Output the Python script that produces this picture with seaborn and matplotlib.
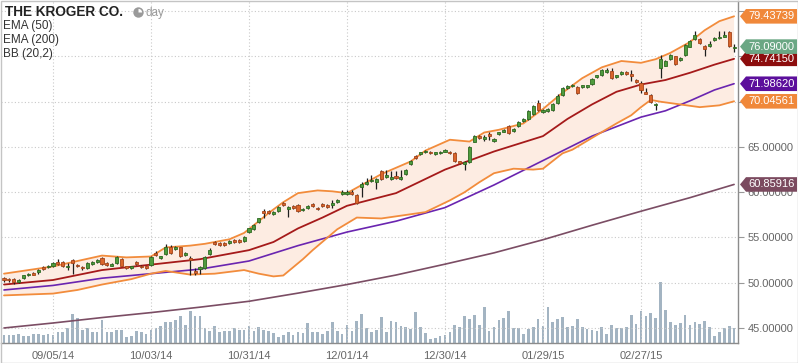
import numpy as np
import pandas as pd
import matplotlib
matplotlib.use("Agg")
import matplotlib.pyplot as plt
import matplotlib.transforms as mtransforms
from matplotlib.patches import Polygon, Rectangle, Circle, Wedge
import seaborn as sns

sns.set_theme(style="white")
plt.rcParams['font.family'] = ['Liberation Sans', 'DejaVu Sans']

# ---------------- data ----------------
holidays = ["2014-09-01", "2014-11-27", "2014-12-25", "2015-01-01", "2015-01-19", "2015-02-16"]
dates = pd.bdate_range("2014-08-21", "2015-03-26", freq="C", holidays=holidays)

opens = [50.5, 50.4, 50.4, 50.1, 50.5, 50.8, 51.1, 51.2, 51.7, 51.7,
         51.8, 52.3, 52.3, 51.7, 52.5, 52.0, 51.7, 51.6, 52.1, 52.3,
         52.7, 52.2, 51.9, 52.2, 52.6, 51.8, 51.6, 52.3, 51.9, 51.8,
         52.0, 53.3, 52.7, 53.2, 53.9, 53.7, 53.9, 53.1, 52.7, 51.3,
         51.5, 51.6, 53.2, 54.5, 54.4, 54.4, 54.4, 54.7, 54.7, 54.6,
         55.6, 55.9, 56.7, 57.9, 57.9, 57.6, 57.9, 58.8, 58.2, 58.5,
         58.6, 58.0, 58.3, 58.7, 58.3, 58.7, 58.6, 58.6, 58.9, 59.8,
         59.8, 60.0, 59.7, 60.6, 60.9, 61.2, 61.1, 62.4, 61.7, 61.5,
         61.8, 61.5, 62.0, 63.1, 64.0, 64.2, 64.4, 64.5, 64.2, 64.3,
         64.5, 64.5, 64.3, 63.4, 63.1, 63.3, 65.6, 66.2, 65.9, 66.4,
         65.7, 66.4, 66.7, 67.3, 66.8, 67.3, 67.9, 68.1, 68.6, 69.9,
         68.9, 69.0, 69.1, 69.9, 70.7, 71.5, 71.7, 71.6, 71.6, 71.6,
         72.0, 72.7, 72.9, 73.3, 73.4, 72.7, 73.1, 73.3, 73.1, 72.4,
         72.1, 71.1, 70.7, 69.6, 73.7, 74.0, 74.7, 75.0, 74.6, 75.2,
         76.1, 76.9, 76.9, 76.2, 76.2, 76.8, 77.0, 77.2, 77.7, 75.9]
closes = [50.3, 50.3, 50.1, 50.3, 50.8, 51.0, 50.9, 51.4, 51.5, 51.9,
          52.2, 52.1, 51.8, 51.9, 52.2, 51.8, 51.6, 52.2, 52.3, 52.5,
          52.1, 52.0, 52.1, 52.8, 51.9, 51.6, 51.8, 52.1, 51.7, 51.6,
          52.8, 53.1, 52.9, 53.9, 53.3, 53.9, 52.9, 53.3, 52.5, 51.1,
          51.7, 52.8, 53.6, 54.3, 54.2, 54.2, 54.6, 54.5, 54.5, 55.1,
          56.0, 56.4, 57.1, 57.7, 57.7, 57.8, 58.4, 58.6, 58.4, 58.3,
          57.9, 58.2, 58.5, 58.5, 58.1, 58.5, 58.4, 58.8, 59.1, 60.0,
          60.0, 59.8, 58.8, 60.9, 61.1, 61.4, 61.5, 61.5, 61.9, 61.7,
          61.6, 61.7, 62.5, 63.5, 63.8, 64.4, 64.6, 64.3, 64.4, 64.5,
          64.7, 64.3, 63.5, 63.2, 63.3, 65.0, 66.2, 66.0, 66.1, 66.2,
          65.9, 66.6, 66.9, 66.5, 67.0, 67.8, 68.1, 69.0, 69.5, 69.1,
          69.1, 69.2, 69.8, 70.6, 71.5, 71.7, 71.9, 71.0, 71.8, 71.8,
          72.5, 72.9, 73.5, 73.5, 72.6, 72.9, 73.3, 73.1, 72.8, 72.2,
          71.3, 70.9, 70.0, 69.8, 74.7, 74.5, 75.2, 74.2, 74.8, 76.3,
          76.7, 77.4, 76.5, 75.8, 76.4, 77.0, 77.2, 77.4, 76.2, 76.09]
highs = [50.6, 50.5, 50.5, 50.4, 50.9, 51.1, 51.2, 51.5, 51.8, 52.0,
         52.3, 52.6, 52.4, 52.2, 52.6, 52.1, 51.8, 52.3, 52.4, 52.6,
         52.8, 52.3, 52.2, 52.9, 52.7, 51.9, 51.9, 52.4, 52.0, 51.9,
         52.9, 53.5, 53.0, 54.3, 54.2, 54.1, 54.0, 53.4, 53.0, 51.6,
         51.9, 52.9, 53.8, 54.6, 54.5, 54.5, 54.7, 54.8, 54.8, 55.2,
         56.1, 56.5, 57.2, 58.1, 58.0, 57.9, 58.5, 58.9, 58.5, 58.6,
         58.7, 58.3, 58.6, 58.8, 58.4, 58.8, 58.7, 59.1, 59.2, 60.3,
         60.3, 60.3, 59.8, 61.1, 61.6, 61.9, 61.6, 62.5, 62.5, 62.4,
         62.4, 62.5, 62.6, 63.6, 64.1, 64.5, 64.7, 64.6, 64.5, 64.6,
         64.8, 64.6, 64.5, 63.5, 63.4, 65.1, 66.3, 66.3, 66.3, 66.6,
         66.0, 66.7, 67.0, 67.4, 67.1, 67.9, 68.2, 69.1, 69.6, 70.2,
         69.2, 69.3, 69.9, 70.8, 71.6, 71.8, 72.0, 71.7, 71.9, 71.9,
         72.6, 73.0, 73.6, 73.7, 73.7, 73.0, 73.4, 73.4, 73.5, 72.5,
         72.3, 71.5, 70.8, 69.9, 75.2, 74.6, 75.3, 75.1, 74.9, 76.4,
         76.8, 77.8, 77.0, 76.3, 76.7, 77.1, 77.8, 77.8, 77.8, 76.4]
lows = [50.1, 50.1, 49.9, 50.0, 50.4, 50.7, 50.8, 51.0, 51.4, 51.6,
        51.7, 52.0, 51.7, 51.4, 51.0, 51.7, 51.4, 51.5, 52.0, 52.2,
        52.0, 51.9, 51.8, 52.1, 51.8, 51.5, 51.5, 52.0, 51.6, 51.5,
        51.9, 52.9, 52.6, 53.1, 53.2, 53.6, 52.8, 53.0, 50.8, 50.8,
        51.0, 51.5, 53.1, 54.2, 54.1, 54.1, 54.3, 54.4, 54.4, 54.5,
        55.5, 55.8, 56.6, 57.2, 57.6, 57.5, 57.8, 58.5, 57.3, 58.2,
        57.8, 57.9, 58.2, 58.4, 58.0, 58.4, 58.3, 58.3, 58.8, 59.7,
        59.7, 59.7, 58.7, 59.5, 60.8, 61.1, 60.4, 61.4, 61.6, 61.4,
        61.5, 61.4, 61.9, 63.0, 63.7, 64.1, 64.3, 64.2, 64.1, 64.2,
        64.4, 64.2, 63.3, 63.1, 62.5, 63.2, 65.5, 65.9, 65.7, 65.8,
        65.6, 66.3, 66.6, 66.4, 66.7, 67.2, 67.8, 68.0, 68.5, 69.0,
        68.8, 68.9, 69.0, 69.8, 70.6, 71.4, 71.6, 70.9, 71.5, 71.5,
        71.9, 72.6, 72.8, 73.2, 72.5, 72.6, 73.0, 73.0, 72.3, 72.1,
        71.0, 70.8, 69.9, 69.1, 72.6, 73.9, 74.6, 74.1, 74.5, 75.1,
        76.0, 76.8, 76.4, 75.0, 76.1, 76.7, 76.9, 77.1, 76.1, 75.5]
# volume, in units of 100k shares
volume = [83, 83, 83, 93, 73, 73, 93, 93, 83, 93,
          83, 107, 107, 150, 293, 250, 133, 150, 107, 107,
          227, 107, 107, 133, 133, 60, 73, 117, 107, 93,
          133, 150, 173, 207, 207, 233, 273, 183, 323, 267,
          267, 150, 117, 167, 107, 117, 117, 150, 127, 127,
          173, 117, 160, 133, 117, 100, 60, 83, 110, 83,
          110, 103, 200, 107, 113, 93, 120, 213, 123, 93,
          183, 123, 223, 293, 150, 110, 133, 260, 113, 223,
          207, 173, 163, 143, 313, 160, 100, 43, 53, 73,
          83, 113, 183, 160, 270, 243, 283, 183, 360, 123,
          160, 233, 253, 320, 147, 153, 93, 143, 160, 243,
          173, 363, 213, 243, 260, 163, 173, 243, 163, 143,
          133, 123, 163, 93, 183, 153, 153, 163, 283, 193,
          323, 273, 303, 253, 613, 333, 213, 183, 203, 283,
          183, 213, 193, 223, 163, 73, 113, 147, 170, 147]

# indicator lines, sampled at trading-day numbers
ema200_idx = [0, 10, 20, 30, 40, 50, 60, 70, 80, 90, 100, 110, 120, 130, 140, 149]
ema200 = [45.0, 45.55, 46.15, 46.7, 47.3, 47.95, 48.85, 49.8, 50.85, 52.05, 53.3, 54.75, 56.35, 57.9, 59.4, 60.86]

ema50_idx = [0, 10, 20, 30, 40, 50, 60, 70, 80, 90, 100, 110, 120, 130, 135, 140, 145, 149]
ema50 = [49.2, 49.7, 50.5, 51.0, 51.5, 52.4, 54.1, 55.6, 56.8, 58.3, 60.8, 63.5, 66.2, 68.3, 69.0, 70.1, 71.3, 71.99]

bb_mid_idx = [0, 10, 20, 30, 40, 50, 55, 60, 65, 70, 80, 90, 100, 110, 115, 120, 125, 130, 135, 140, 145, 149]
bb_mid = [49.8, 50.3, 51.4, 52.0, 52.6, 53.6, 54.5, 56.0, 57.2, 58.5, 59.9, 62.5, 64.5, 66.2, 68.1, 69.7, 71.1, 71.9, 72.4, 73.2, 74.1, 74.74]

bb_up_idx = [0, 5, 10, 15, 20, 25, 30, 33, 38, 41, 46, 49, 52, 54, 57, 60, 64, 67, 70, 72,
             77, 83, 86, 91, 95, 98, 101, 106, 110, 114, 118, 122, 126, 130, 133, 136, 140, 143, 146, 149]
bb_up = [51.0, 51.4, 51.8, 52.4, 53.0, 52.8, 52.9, 53.9, 54.1, 54.3, 54.8, 55.5, 56.8, 57.7, 58.9, 59.9, 60.2, 60.1, 59.9, 60.5,
         62.0, 63.4, 64.6, 65.8, 65.6, 66.6, 66.9, 67.6, 69.2, 71.0, 72.6, 73.8, 74.5, 74.3, 74.7, 75.4, 76.6, 77.9, 78.9, 79.44]

bb_lo_idx = [0, 5, 10, 15, 20, 26, 30, 33, 38, 43, 49, 52, 55, 57, 59, 61, 63, 68, 72, 77,
             86, 91, 94, 97, 100, 104, 108, 110, 114, 116, 120, 125, 128, 130, 132, 134, 138, 142, 146, 149]
bb_lo = [48.6, 48.7, 48.8, 49.2, 49.8, 50.4, 51.0, 51.3, 50.9, 51.0, 51.4, 51.0, 50.7, 50.8, 51.7, 52.6, 53.6, 55.9, 57.2, 57.1,
         57.8, 59.1, 60.0, 61.1, 62.1, 62.6, 62.5, 62.6, 64.3, 64.7, 66.0, 67.6, 68.5, 69.4, 70.2, 70.0, 69.7, 69.4, 69.6, 70.05]

tick_labels = ["09/05/14", "10/03/14", "10/31/14", "12/01/14", "12/30/14", "01/29/15", "02/27/15"]
y_ticks = [45, 50, 55, 60, 65, 70, 75, 80]
y_labeled = [45, 50, 55, 60, 65, 70, 75]

tags = [(79.43739, "#f0883a"), (74.74150, "#8c0d0d"), (76.09000, "#6aa784"),
        (71.98620, "#5c0f9c"), (70.04561, "#f0883a"), (60.85916, "#7b4a5f")]

# ---------------- figure ----------------
W, H = 798, 363
fig = plt.figure(figsize=(W / 100, H / 100), dpi=100)
fig.patch.set_facecolor("white")
ax_left, ax_right, ax_top, ax_bot = 1, 738, 1, 343
ax = fig.add_axes([ax_left / W, (H - ax_bot) / H, (ax_right - ax_left) / W, (ax_bot - ax_top) / H])
axv = ax.twinx()
ax.set_zorder(axv.get_zorder() + 1)
ax.patch.set_visible(False)
axv.patch.set_facecolor("white")

df = pd.DataFrame({"date": dates, "open": opens, "high": highs, "low": lows,
                   "close": closes, "volume": volume})
df["n"] = np.arange(len(df))

# volume
axv.bar(df["n"], df["volume"], width=0.55, color="#a3b4c2", linewidth=0)
axv.set_ylim(0, 3420)
axv.set_yticks([])
for s in axv.spines.values():
    s.set_visible(False)

# bollinger band fill
ax.fill(np.r_[bb_up_idx, bb_lo_idx[::-1]], np.r_[bb_up, bb_lo[::-1]],
        color="#fdece2", lw=0, zorder=1)

def line(idx, vals, color, lw, z):
    sns.lineplot(x=np.asarray(idx, float), y=np.asarray(vals, float), ax=ax, color=color,
                 linewidth=lw, estimator=None, sort=False, zorder=z, legend=False)

line(ema200_idx, ema200, "#7b4d64", 1.2, 3)
line(ema50_idx, ema50, "#6a25b0", 1.2, 3)
line(bb_mid_idx, bb_mid, "#a51a1a", 1.3, 3)
line(bb_up_idx, bb_up, "#f28c3c", 1.3, 3)
line(bb_lo_idx, bb_lo, "#f28c3c", 1.3, 3)

# candles
up = df["close"] >= df["open"]
ax.vlines(df["n"], df["low"], df["high"], color="#1e1e1e", lw=0.9, zorder=4)
body_lo = np.minimum(df["open"], df["close"])
body_h = np.abs(df["close"] - df["open"])
ax.bar(df["n"][up], body_h[up], bottom=body_lo[up], width=0.62,
       color="#4f9b3e", edgecolor="#2e6b22", linewidth=0.6, zorder=5)
ax.bar(df["n"][~up], body_h[~up], bottom=body_lo[~up], width=0.62,
       color="#d9652c", edgecolor="#a5441a", linewidth=0.6, zorder=5)

ymin, ymax = 43.34, 81.13
ax.set_xlim(-0.61, 149.8)
ax.set_ylim(ymin, ymax)

# axes styling
tick_pos = [int(np.where(df["date"].dt.strftime("%m/%d/%y") == t)[0][0]) for t in tick_labels]
ax.set_xticks(tick_pos)
ax.set_xticklabels(tick_labels)
ax.set_yticks(y_ticks)
ax.set_yticklabels([f"{v:.5f}" if v in y_labeled else "" for v in y_ticks])
ax.yaxis.tick_right()
ax.tick_params(axis="x", length=4, width=0.8, color="#999999", pad=2, labelsize=8, labelcolor="#666666")
ax.tick_params(axis="y", length=4, width=0.8, color="#999999", pad=3, labelsize=8, labelcolor="#666666",
               right=True, left=False)
ax.grid(True, linestyle=(0, (1, 2)), color="#c9c9c9", linewidth=0.8)
for k in ["left", "top"]:
    ax.spines[k].set_visible(False)
for k in ["right", "bottom"]:
    ax.spines[k].set_color("#8c8c8c")
    ax.spines[k].set_linewidth(1.0)
ax.set_xlabel("")
ax.set_ylabel("")

# price tags
ppu = (ax_bot - ax_top) / (ymax - ymin)
hh = 7.3 / ppu
blend = mtransforms.blended_transform_factory(ax.transAxes, ax.transData)
aw = ax_right - ax_left
x_tip = (740 - ax_left) / aw
x_body = (746 - ax_left) / aw
x_end = (797 - ax_left) / aw
x_txt = (748.5 - ax_left) / aw
for z, (val, col) in enumerate(tags):
    poly = Polygon([(x_tip, val), (x_body, val + hh), (x_end, val + hh), (x_end, val - hh), (x_body, val - hh)],
                   closed=True, transform=blend, facecolor=col, edgecolor="none", clip_on=False, zorder=20 + z)
    ax.add_patch(poly)
    ax.text(x_txt, val, f"{val:.5f}", transform=blend, color="white", fontsize=8,
            va="center", ha="left", clip_on=False, zorder=20 + z)

# header texts
def fy(px):
    return 1 - px / H

fig.text(5 / W, fy(12.5), "THE KROGER CO.", fontsize=9.8, fontweight="bold", color="#222222", va="center")
pxt = mtransforms.Affine2D().scale(0.01) + fig.dpi_scale_trans
fig.patches.append(Circle((138.5, H - 12.5), 5.2, transform=pxt, facecolor="#9a9a9a", edgecolor="none"))
fig.patches.append(Wedge((138.5, H - 12.5), 3.6, 0, 90, transform=pxt, facecolor="white", edgecolor="none"))
fig.text(146 / W, fy(13), "day", fontsize=8.5, color="#9a9a9a", va="center")
for yy, t in [(26, "EMA (50)"), (40, "EMA (200)"), (54, "BB (20,2)")]:
    fig.text(3 / W, fy(yy), t, fontsize=8.5, color="#333333", va="center")

# outer frame
fig.patches.append(Rectangle((0.5, 0.5), W - 1, H - 1, transform=pxt, fill=False,
                             edgecolor="#c4c4c4", linewidth=1))

fig.savefig("out.png", dpi=100)
